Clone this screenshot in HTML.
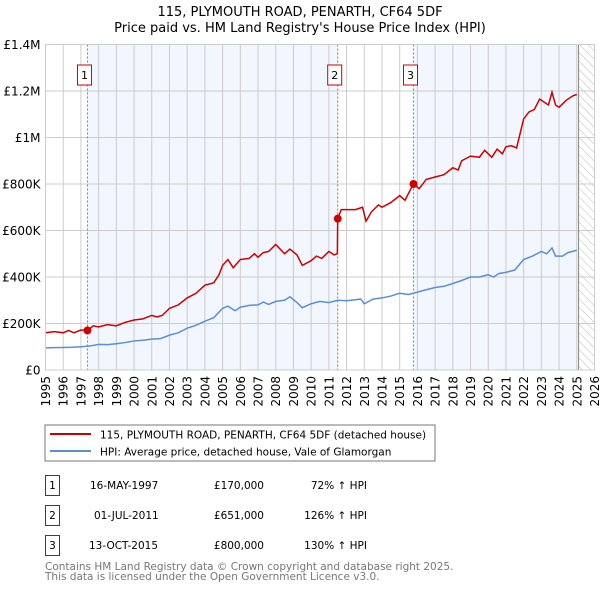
<!DOCTYPE html>
<html><head><meta charset="utf-8"><style>
body{margin:0;background:#fff;width:600px;height:590px;overflow:hidden;font-family:"DejaVu Sans","Liberation Sans",sans-serif}
svg text{font-family:"DejaVu Sans","Liberation Sans",sans-serif}
</style></head><body>
<svg id="c" width="600" height="590" xmlns="http://www.w3.org/2000/svg">
<defs><pattern id="hatch" width="6" height="6" patternUnits="userSpaceOnUse" patternTransform="rotate(-45)"><line x1="0" y1="0" x2="0" y2="6" stroke="#bbb" stroke-width="1"/></pattern></defs>
<text x="300" y="16" text-anchor="middle" font-size="13">115, PLYMOUTH ROAD, PENARTH, CF64 5DF</text>
<text x="300" y="32" text-anchor="middle" font-size="13">Price paid vs. HM Land Registry's House Price Index (HPI)</text>
<g id="plot"></g>
<rect x="45" y="425" width="390" height="36" fill="#fff" stroke="#777"/>
<line x1="50" y1="434" x2="91" y2="434" stroke="#cc0000" stroke-width="2"/>
<text x="100" y="438.5" font-size="10.5">115, PLYMOUTH ROAD, PENARTH, CF64 5DF (detached house)</text>
<line x1="50" y1="451" x2="91" y2="451" stroke="#5b8fd4" stroke-width="2"/>
<text x="100" y="455.5" font-size="10.5">HPI: Average price, detached house, Vale of Glamorgan</text>
<g font-size="10.5">
<rect x="45.5" y="475.5" width="14" height="20" fill="none" stroke="#cc0000"/><text x="52.5" y="489" text-anchor="middle">1</text>
<text x="90" y="489">16-MAY-1997</text><text x="264" y="489" text-anchor="end">£170,000</text><text x="367" y="489" text-anchor="end">72% ↑ HPI</text>
<rect x="45.5" y="505.5" width="14" height="20" fill="none" stroke="#cc0000"/><text x="52.5" y="519" text-anchor="middle">2</text>
<text x="94" y="519">01-JUL-2011</text><text x="264" y="519" text-anchor="end">£651,000</text><text x="367" y="519" text-anchor="end">126% ↑ HPI</text>
<rect x="45.5" y="535.5" width="14" height="20" fill="none" stroke="#cc0000"/><text x="52.5" y="549" text-anchor="middle">3</text>
<text x="89" y="549">13-OCT-2015</text><text x="264" y="549" text-anchor="end">£800,000</text><text x="367" y="549" text-anchor="end">130% ↑ HPI</text>
</g>
<text x="45" y="570" font-size="10.5" fill="#777">Contains HM Land Registry data © Crown copyright and database right 2025.</text>
<text x="45" y="580" font-size="10.5" fill="#777">This data is licensed under the Open Government Licence v3.0.</text>
</svg>
<script>
const yTicks=[0,200,400,600,800,1000,1200,1400];
const yTickLabels=["£0","£200K","£400K","£600K","£800K","£1M","£1.2M","£1.4M"];
const years=[1995,1996,1997,1998,1999,2000,2001,2002,2003,2004,2005,2006,2007,2008,2009,2010,2011,2012,2013,2014,2015,2016,2017,2018,2019,2020,2021,2022,2023,2024,2025,2026];
const saleDates=[1997.37,2011.5,2015.78];
const saleValues=[170,651,800];
const saleLabels=["1","2","3"];
const hpiT=[1995,1995.5,1996,1996.5,1997,1997.5,1998,1998.5,1999,1999.5,2000,2000.5,2001,2001.5,2002,2002.5,2003,2003.5,2004,2004.5,2005,2005.3,2005.7,2006,2006.5,2007,2007.3,2007.6,2008,2008.5,2008.8,2009.2,2009.5,2010,2010.5,2011,2011.5,2012,2012.8,2013,2013.5,2014,2014.5,2015,2015.5,2016,2016.5,2017,2017.5,2018,2018.5,2019,2019.5,2020,2020.3,2020.6,2021,2021.5,2022,2022.5,2023,2023.3,2023.6,2023.8,2024.2,2024.5,2025];
const hpiV=[95,96,97,98,100,103,110,109,113,118,125,128,133,135,150,160,180,192,210,225,265,275,255,270,278,280,292,282,295,300,315,290,268,285,295,290,300,298,305,285,305,310,318,330,325,335,345,355,360,372,385,400,400,410,400,415,420,430,475,490,510,500,525,490,490,505,515];
const priceT=[1995,1995.5,1996,1996.3,1996.6,1997,1997.37,1997.7,1998,1998.5,1999,1999.5,2000,2000.5,2001,2001.3,2001.6,2002,2002.5,2003,2003.5,2004,2004.5,2004.8,2005,2005.3,2005.6,2006,2006.5,2006.8,2007,2007.3,2007.6,2008,2008.5,2008.8,2009.2,2009.5,2010,2010.3,2010.6,2011,2011.3,2011.48,2011.5,2011.7,2012,2012.5,2012.9,2013.1,2013.4,2013.8,2014,2014.5,2015,2015.3,2015.6,2015.78,2016.1,2016.5,2017,2017.5,2018,2018.3,2018.5,2019,2019.5,2019.8,2020.2,2020.5,2020.8,2021,2021.3,2021.6,2022,2022.3,2022.6,2022.9,2023.2,2023.4,2023.6,2023.8,2024,2024.4,2024.8,2025];
const priceV=[160,165,160,170,160,172,170,190,185,195,190,205,215,220,235,228,235,265,280,310,330,365,375,410,450,475,440,475,480,500,485,505,510,540,500,520,495,450,470,490,480,510,495,500,651,690,690,690,700,640,680,710,700,720,750,730,775,800,780,820,830,840,870,860,900,920,915,945,915,950,930,960,965,955,1080,1110,1120,1165,1150,1140,1195,1140,1130,1160,1180,1185];
const X0=45.5,X1=594.5,Y0=370,Y1=44.5;
const x=t=>X0+(t-1995)/(2026-1995)*(X1-X0);
const y=v=>Y0-v/1400*(Y0-Y1);
const NS="http://www.w3.org/2000/svg";
const g=document.getElementById('plot');
function mk(tag,attrs,parent){const e=document.createElementNS(NS,tag);for(const k in attrs)e.setAttribute(k,attrs[k]);(parent||g).appendChild(e);return e;}
let e;
e=mk('rect',{x:X0,y:Y1,width:X1-X0,height:Y0-Y1,fill:'#fff'});


const shadeEnd=2025.1;
[[saleDates[0],saleDates[1]],[saleDates[2],shadeEnd]].forEach(s=>{
 e=mk('rect',{x:x(s[0]),y:Y1,width:x(s[1])-x(s[0]),height:Y0-Y1,fill:'#eef3fd',opacity:0.75});
 
 
});
e=mk('rect',{x:x(shadeEnd),y:Y1,width:X1-x(shadeEnd),height:Y0-Y1,fill:'url(#hatch)'});


years.forEach(t=>{
 e=mk('line',{x1:x(t),x2:x(t),y1:Y1,y2:Y0,stroke:'#ccc','stroke-width':1});
 
 
 e=mk('text',{x:0,y:0,'font-size':12,'text-anchor':'end',transform:`translate(${x(t)+4.5},${Y0+6}) rotate(-90)`});
 e.textContent=t;
 
 
});
yTicks.forEach((v,i)=>{
 e=mk('line',{x1:X0,x2:X1,y1:y(v),y2:y(v),stroke:'#ccc','stroke-width':1});
 
 
 e=mk('text',{x:X0-5,y:y(v)+4.5,'font-size':12,'text-anchor':'end'});
 e.textContent=yTickLabels[i];
 
 
});
e=mk('line',{x1:x(shadeEnd),x2:x(shadeEnd),y1:Y1,y2:Y0,stroke:'#888','stroke-width':1});


saleDates.forEach((t,i)=>{
 e=mk('line',{x1:x(t),x2:x(t),y1:Y1,y2:Y0,stroke:'#e55','stroke-width':1,'stroke-dasharray':'2,2'});
 
 
 e=mk('rect',{x:x(t)-10,y:65,width:14,height:20,fill:'#fff',stroke:'#cc0000'});
 
 
 e=mk('text',{x:x(t)-3,y:79,'font-size':11,'text-anchor':'middle'});
 e.textContent=saleLabels[i];
 
 
});
e=mk('polyline',{points:hpiT.map((t,i)=>x(t)+','+y(hpiV[i])).join(' '),fill:'none',stroke:'#5b8fd4','stroke-width':1.5});


e=mk('polyline',{points:priceT.map((t,i)=>x(t)+','+y(priceV[i])).join(' '),fill:'none',stroke:'#cc0000','stroke-width':1.5});


saleDates.forEach((t,i)=>{
 e=mk('circle',{cx:x(t),cy:y(saleValues[i]),r:4,fill:'#cc0000'});
 
 
});
e=mk('rect',{x:X0,y:Y1,width:X1-X0,height:Y0-Y1,fill:'none',stroke:'#ccc'});


</script>
</body></html>
